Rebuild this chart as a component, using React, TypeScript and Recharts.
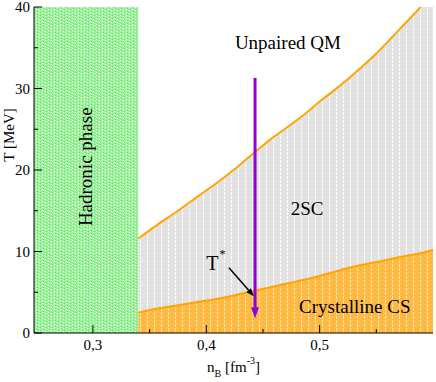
import {
  ComposedChart,
  Area,
  XAxis,
  YAxis,
  ReferenceArea,
  ReferenceLine,
  ReferenceDot,
} from "recharts";

// phase boundaries, T in MeV vs baryon density n_B in fm^-3
const nB = [0.34, 0.357, 0.375, 0.392, 0.41, 0.424, 0.436, 0.443, 0.456, 0.472, 0.488, 0.5, 0.513, 0.526, 0.55, 0.57, 0.589, 0.6];
const tUpper = [11.6, 13.3, 15.0, 16.7, 18.5, 20.0, 21.4, 22.2, 23.7, 25.3, 27.0, 28.4, 29.8, 31.3, 34.3, 37.2, 40.0, 41.8];
const tLower = [2.5, 3.0, 3.4, 3.8, 4.2, 4.6, 5.0, 5.2, 5.6, 6.1, 6.6, 7.0, 7.5, 8.0, 8.7, 9.3, 9.8, 10.2];

const hadronicEdge = 0.34;
const xDomain = [0.248, 0.6];
const yDomain = [0, 40];
const xTicks = [0.3, 0.35, 0.4, 0.45, 0.5, 0.55];
const yTicks = [0, 5, 10, 15, 20, 25, 30, 35, 40];

const pathArrow = [
  { n: 0.443, T: 31.3 },
  { n: 0.443, T: 1.8 },
];
const tStarArrow = [
  { n: 0.42, T: 8.0 },
  { n: 0.442, T: 4.5 },
];

const phaseLabels = [
  { text: "Unpaired QM", n: 0.472, T: 34.9, size: 19, angle: 0 },
  { text: "2SC", n: 0.489, T: 14.5, size: 19, angle: 0 },
  { text: "Crystalline CS", n: 0.531, T: 2.5, size: 19, angle: 0 },
  { text: "Hadronic phase", n: 0.299, T: 20.4, size: 19, angle: -90 },
];

const rows = nB.map((n, i) => ({ n, upper: tUpper[i], lower: tLower[i] }));

const SERIF = "Liberation Serif, Times New Roman, DejaVu Serif, serif";
const ORANGE = "#ffa500";
const PURPLE = "#9400d3";

const isMajor = (v: number) => Math.abs(v * 10 - Math.round(v * 10)) < 1e-6;
const isMajorY = (v: number) => v % 10 === 0;

function BottomTick({ x, y, payload }: any) {
  const v = payload.value;
  const major = isMajor(v);
  return (
    <g>
      <line x1={x} x2={x} y1={y} y2={y - (major ? 8 : 4)} stroke="#000" />
      {major && (
        <text x={x} y={y + 17} textAnchor="middle" style={{ fontFamily: SERIF, fontSize: 15 }} fill="#000">
          {v.toFixed(1).replace(".", ",")}
        </text>
      )}
    </g>
  );
}

function LeftTick({ x, y, payload }: any) {
  const v = payload.value;
  const major = isMajorY(v);
  return (
    <g>
      <line x1={x} x2={x + (major ? 8 : 4)} y1={y} y2={y} stroke="#000" />
      {major && (
        <text x={x - 4} y={y + 5} textAnchor="end" style={{ fontFamily: SERIF, fontSize: 15 }} fill="#000">
          {v}
        </text>
      )}
    </g>
  );
}

function TopTick({ x, y }: any) {
  return <line x1={x} x2={x} y1={y} y2={y + 8} stroke="#000" />;
}

function RightTick({ x, y }: any) {
  return <line x1={x} x2={x - 8} y1={y} y2={y} stroke="#000" />;
}

function arrowShape(color: string, width: number, headLen: number, headHalf: number) {
  return (p: any) => {
    const { x1, y1, x2, y2 } = p;
    const ang = Math.atan2(y2 - y1, x2 - x1);
    const ux = Math.cos(ang);
    const uy = Math.sin(ang);
    const bx = x2 - ux * headLen;
    const by = y2 - uy * headLen;
    const pts = `${x2},${y2} ${bx - uy * headHalf},${by + ux * headHalf} ${bx + uy * headHalf},${by - ux * headHalf}`;
    return (
      <g>
        <line x1={x1} y1={y1} x2={bx} y2={by} stroke={color} strokeWidth={width} />
        <polygon points={pts} fill={color} />
      </g>
    );
  };
}

function PhaseText(props: any) {
  const { cx, cy, text, size, angle } = props;
  return (
    <text
      x={cx}
      y={cy}
      textAnchor="middle"
      style={{ fontFamily: SERIF, fontSize: size }}
      fill="#000"
      transform={angle ? `rotate(${angle} ${cx} ${cy})` : undefined}
    >
      {text}
    </text>
  );
}

function TStar(props: any) {
  const { cx, cy } = props;
  return (
    <text x={cx} y={cy} style={{ fontFamily: SERIF, fontSize: 20 }} fill="#000">
      T
      <tspan dx={1} dy={-12} style={{ fontSize: 12 }}>
        *
      </tspan>
    </text>
  );
}

function YLabel({ viewBox }: any) {
  const x = viewBox.x + 14;
  const y = viewBox.y + 128;
  return (
    <text x={x} y={y} transform={`rotate(-90 ${x} ${y})`} textAnchor="middle" style={{ fontFamily: SERIF, fontSize: 15 }} fill="#000">
      T [MeV]
    </text>
  );
}

function XLabel({ viewBox }: any) {
  const x = viewBox.x + viewBox.width / 2;
  const y = viewBox.y + 39;
  return (
    <text x={x} y={y} textAnchor="middle" style={{ fontFamily: SERIF, fontSize: 15 }} fill="#000">
      n
      <tspan dy={5} style={{ fontSize: 10 }}>B</tspan>
      <tspan dy={-5}> [fm</tspan>
      <tspan dy={-8} style={{ fontSize: 10 }}>-3</tspan>
      <tspan dy={8}>]</tspan>
    </text>
  );
}

export default function App() {
  return (
    <div style={{ position: "absolute", left: 0, top: 0 }}>
      <svg width={0} height={0} style={{ position: "absolute" }}>
        <defs>
          <pattern id="hadronic" patternUnits="userSpaceOnUse" width={6} height={3}>
            <rect width={6} height={3} fill="#9ef29e" />
            <rect x={0} y={0} width={1} height={1} fill="#ffffff" />
            <rect x={3} y={1} width={1} height={1} fill="#ffffff" />
            <rect x={1} y={2} width={1} height={1} fill="#5fe85f" />
            <rect x={4} y={0} width={1} height={1} fill="#5fe85f" />
          </pattern>
          <pattern id="twoSC" patternUnits="userSpaceOnUse" width={7} height={4}>
            <rect width={7} height={4} fill="#e2e2e2" />
            <rect x={0} y={0} width={1} height={3} fill="#fbfbfb" />
            <rect x={4} y={2} width={1} height={1} fill="#d8d8d8" />
          </pattern>
          <pattern id="crystal" patternUnits="userSpaceOnUse" width={7} height={4}>
            <rect width={7} height={4} fill="#ffba44" />
            <rect x={0} y={0} width={1} height={3} fill="#ffe3ad" />
            <rect x={4} y={2} width={1} height={1} fill="#f7ad30" />
          </pattern>
        </defs>
      </svg>
      <ComposedChart width={436} height={382} data={rows} margin={{ top: 7, right: 3, bottom: 0, left: 0 }}>
        <XAxis
          dataKey="n"
          type="number"
          domain={xDomain}
          allowDataOverflow
          ticks={xTicks}
          interval={0}
          height={49}
          tickSize={0}
          tickMargin={0}
          tickLine={false}
          axisLine={{ stroke: "#000" }}
          tick={<BottomTick />}
          label={<XLabel />}
        />
        <XAxis
          xAxisId="top"
          orientation="top"
          type="number"
          domain={xDomain}
          allowDataOverflow
          ticks={xTicks}
          interval={0}
          height={0}
          tickSize={0}
          tickMargin={0}
          tickLine={false}
          axisLine={{ stroke: "#000" }}
          tick={<TopTick />}
        />
        <YAxis
          type="number"
          domain={yDomain}
          allowDataOverflow
          ticks={yTicks}
          interval={0}
          width={34}
          tickSize={0}
          tickMargin={0}
          tickLine={false}
          axisLine={{ stroke: "#000" }}
          tick={<LeftTick />}
          label={<YLabel />}
        />
        <YAxis
          yAxisId="right"
          orientation="right"
          type="number"
          domain={yDomain}
          allowDataOverflow
          ticks={yTicks}
          interval={0}
          width={0}
          tickSize={0}
          tickMargin={0}
          tickLine={false}
          axisLine={{ stroke: "#000" }}
          tick={<RightTick />}
        />
        <ReferenceArea
          x1={xDomain[0]}
          x2={hadronicEdge}
          y1={yDomain[0]}
          y2={yDomain[1]}
          fill="url(#hadronic)"
          fillOpacity={1}
          stroke="none"
        />
        <Area
          type="monotone"
          dataKey="upper"
          stroke={ORANGE}
          strokeWidth={2}
          fill="url(#twoSC)"
          fillOpacity={1}
          dot={false}
          activeDot={false}
          isAnimationActive={false}
        />
        <Area
          type="monotone"
          dataKey="lower"
          stroke={ORANGE}
          strokeWidth={2}
          fill="url(#crystal)"
          fillOpacity={1}
          dot={false}
          activeDot={false}
          isAnimationActive={false}
        />
        <ReferenceLine
          segment={[
            { x: pathArrow[0].n, y: pathArrow[0].T },
            { x: pathArrow[1].n, y: pathArrow[1].T },
          ]}
          shape={arrowShape(PURPLE, 3, 11, 4)}
        />
        <ReferenceLine
          segment={[
            { x: tStarArrow[0].n, y: tStarArrow[0].T },
            { x: tStarArrow[1].n, y: tStarArrow[1].T },
          ]}
          shape={arrowShape("#000", 1.5, 8, 3)}
        />
        <ReferenceDot x={0.4} y={7.7} r={0} shape={(p: any) => <TStar {...p} />} />
        {phaseLabels.map((l) => (
          <ReferenceDot
            key={l.text}
            x={l.n}
            y={l.T}
            r={0}
            shape={(p: any) => <PhaseText {...p} text={l.text} size={l.size} angle={l.angle} />}
          />
        ))}
      </ComposedChart>
    </div>
  );
}
